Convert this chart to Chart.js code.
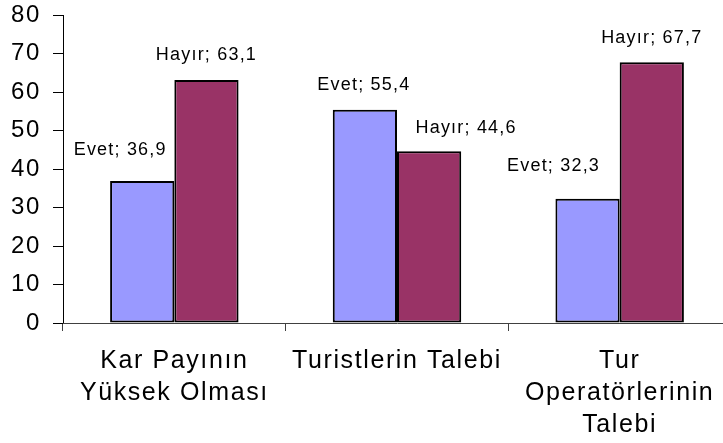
<!DOCTYPE html>
<html>
<head>
<meta charset="utf-8">
<script src="https://cdn.jsdelivr.net/npm/chart.js@4/dist/chart.umd.min.js"></script>
<style>
  html, body { margin: 0; padding: 0; background: #fff; overflow: hidden; }
  #wrap { width: 723px; height: 443px; overflow: hidden; position: relative; }
  #box { width: 740px; height: 443px; }
</style>
</head>
<body>
<div id="wrap"><div id="box"><canvas id="chart"></canvas></div></div>
<script>
// VERİLER
const categories = [['Kar Payının', 'Yüksek Olması'], 'Turistlerin Talebi', ['Tur', 'Operatörlerinin', 'Talebi']];
const seriesNames = ['Evet', 'Hayır'];
const evetValues = [36.9, 55.4, 32.3];
const hayirValues = [63.1, 44.6, 67.7];
const yMin = 0;
const yMax = 80;
const yStep = 10;

// ETİKET KAYDIRMALARI (dx, dy) - çubuk tepesine göre
const labelOffsets = [
  [[-22, -31], [-1, -25], [-34, -33]],
  [[0, -25], [37, -23], [0, -24]]
];

const FONT = '"Liberation Sans", Arial, sans-serif';

// METİN ARALIĞI (eksen yazıları biraz geniş)
const letterSpace = {
  id: 'letterSpace',
  beforeDraw(chart) {
    chart.ctx.letterSpacing = '1.6px';
  }
};

// VERİ ETİKETLERİ
const dataLabels = {
  id: 'dataLabels',
  afterDatasetsDraw(chart) {
    const ctx = chart.ctx;
    ctx.save();
    ctx.font = '18px ' + FONT;
    ctx.letterSpacing = '1.2px';
    ctx.fillStyle = '#000';
    ctx.textAlign = 'center';
    ctx.textBaseline = 'middle';
    chart.data.datasets.forEach((ds, i) => {
      chart.getDatasetMeta(i).data.forEach((bar, j) => {
        const off = labelOffsets[i][j];
        const txt = ds.label + '; ' + String(ds.data[j]).replace('.', ',');
        ctx.fillText(txt, bar.x + off[0], bar.y + off[1]);
      });
    });
    ctx.restore();
  }
};

new Chart(document.getElementById('chart'), {
  type: 'bar',
  data: {
    labels: categories,
    datasets: [{
      label: seriesNames[0],
      data: evetValues,
      backgroundColor: '#9999FF',
      borderColor: '#000',
      borderWidth: 2,
      borderSkipped: false
    }, {
      label: seriesNames[1],
      data: hayirValues,
      backgroundColor: '#993366',
      borderColor: '#000',
      borderWidth: 2,
      borderSkipped: false
    }]
  },
  options: {
    responsive: true,
    maintainAspectRatio: false,
    animation: false,
    layout: { padding: { top: 15, right: 9, left: 0, bottom: 0 } },
    datasets: { bar: { categoryPercentage: 0.577, barPercentage: 1 } },
    plugins: {
      legend: { display: false },
      tooltip: { enabled: false }
    },
    scales: {
      y: {
        min: yMin,
        max: yMax,
        ticks: {
          stepSize: yStep,
          color: '#000',
          font: { family: FONT, size: 24 },
          padding: 12
        },
        grid: { drawOnChartArea: false, tickLength: 10, color: '#000' },
        border: { color: '#000', width: 1 },
        afterFit(scale) {
          scale.width = 63;
          scale.paddingTop = 0;
          scale.paddingBottom = 0;
        }
      },
      x: {
        offset: true,
        ticks: {
          color: '#000',
          font: { family: FONT, size: 25, lineHeight: 1.28 },
          padding: 14,
          maxRotation: 0,
          autoSkip: false
        },
        grid: { offset: true, drawOnChartArea: false, tickLength: 8, color: '#404040' },
        border: { color: '#404040', width: 1 },
        afterFit(scale) { scale.height = 120; }
      }
    }
  },
  plugins: [letterSpace, dataLabels]
});
</script>
</body>
</html>
